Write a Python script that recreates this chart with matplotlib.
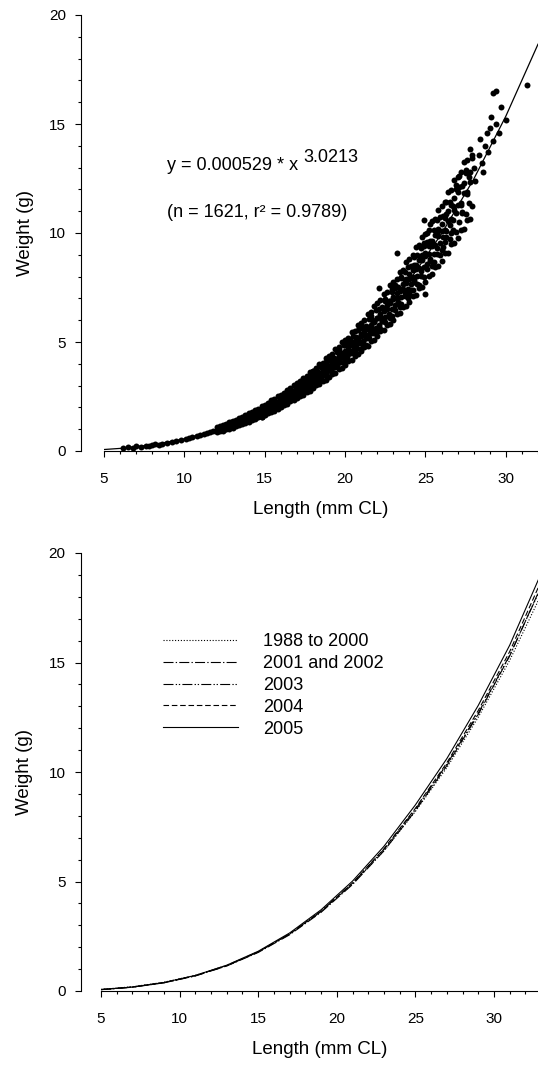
import numpy as np
import matplotlib.pyplot as plt

plt.rcParams['font.family'] = ['Liberation Sans', 'DejaVu Sans']
plt.rcParams['font.size'] = 11

length_mm = [
    6.2, 6.5, 6.8, 7.0, 7.3, 7.6, 7.8, 8.0, 8.2, 8.4, 8.6, 8.9,
    9.2, 9.5, 9.8, 10.1, 10.3, 10.5, 10.8, 11.0, 11.2, 11.4, 11.6, 11.8, 12.0, 12.2, 12.4, 12.6, 12.8,
    13.0, 13.1, 13.2, 13.3, 13.4, 13.5, 13.6, 13.7, 13.8, 13.9, 14.0, 14.1, 14.2, 14.3, 14.4,
    14.5, 14.6, 14.7, 14.8, 14.9, 15.0, 15.1, 15.2, 15.3, 15.4, 15.5, 15.6, 15.7, 15.8, 15.9,
    14.2, 14.8, 15.4, 15.6,
    16.0, 16.1, 16.2, 16.3, 16.4, 16.5, 16.6, 16.7, 16.8, 16.9, 17.0, 17.1, 17.2, 17.3, 17.4,
    17.5, 17.6, 17.7, 17.8, 17.9, 18.0, 18.1, 18.2, 18.3, 18.4, 18.5, 18.6, 18.7, 18.8, 18.9,
    16.3, 16.9, 17.2, 17.6, 18.0, 18.4, 18.8, 18.5,
    19.0, 19.1, 19.2, 19.3, 19.4, 19.5, 19.6, 19.7, 19.8, 19.9, 20.0, 20.1, 20.2, 20.3, 20.4,
    20.5, 20.6, 20.7, 20.8, 20.9, 21.0, 21.1, 21.2, 21.3, 21.4, 21.5, 21.6, 21.7, 21.8, 21.9,
    19.2, 19.6, 20.0, 20.3, 20.6, 21.0, 21.3, 21.6, 19.9, 20.8, 21.8, 21.1,
    22.0, 22.1, 22.2, 22.3, 22.4, 22.5, 22.6, 22.7, 22.8, 22.9, 23.0, 23.1, 23.2, 23.3, 23.4,
    23.5, 23.6, 23.7, 23.8, 23.9, 24.0, 24.1, 24.2, 24.3, 24.4, 24.5, 24.6, 24.7, 24.8, 24.9,
    22.2, 22.5, 22.8, 23.1, 23.4, 23.7, 24.0, 24.3, 24.6, 24.9, 22.9, 23.5, 24.2, 24.7, 22.1, 23.2,
    25.0, 25.1, 25.2, 25.3, 25.4, 25.5, 25.6, 25.7, 25.8, 25.9, 26.0, 26.1, 26.2, 26.3, 26.4,
    26.5, 26.6, 26.7, 26.8, 26.9, 27.0, 27.2, 27.4, 27.6, 27.8,
    25.1, 25.4, 25.7, 26.0, 26.3, 26.6, 26.9, 25.3, 26.2, 27.1, 27.5, 27.3, 24.9, 25.0,
    28.0, 28.1, 28.3, 28.4, 28.5, 28.7, 28.8, 28.9, 29.0, 29.1, 29.2, 29.4, 29.4, 29.2, 29.7,
    29.6, 30.0, 31.3, 27.9, 28.6,
]
weight_g = [
    0.14, 0.17, 0.16, 0.21, 0.20, 0.25, 0.23, 0.27, 0.30, 0.29, 0.33, 0.36,
    0.40, 0.46, 0.50, 0.55, 0.60, 0.64, 0.70, 0.72, 0.80, 0.82, 0.86, 0.92, 0.98, 0.96, 1.08, 1.10, 1.18,
    1.22, 1.30, 1.20, 1.35, 1.28, 1.40, 1.33, 1.45, 1.38, 1.52, 1.48, 1.60, 1.55, 1.66, 1.58,
    1.72, 1.65, 1.80, 1.70, 1.86, 1.82, 1.95, 1.88, 2.02, 1.96, 2.10, 2.00, 2.18, 2.08, 2.25,
    1.75, 1.58, 2.20, 1.85,
    2.30, 2.18, 2.45, 2.35, 2.55, 2.40, 2.65, 2.50, 2.75, 2.60, 2.85, 2.70, 2.95, 2.80, 3.05,
    2.90, 3.15, 3.00, 3.30, 3.10, 3.40, 3.20, 3.50, 3.30, 3.60, 3.42, 3.75, 3.55, 3.85, 3.65,
    2.62, 2.45, 3.18, 2.85, 3.65, 3.25, 4.10, 3.85,
    3.90, 3.70, 4.05, 3.85, 4.20, 4.00, 4.35, 4.10, 4.50, 4.25, 4.60, 4.35, 4.75, 4.50, 4.90,
    4.62, 5.05, 4.80, 5.20, 4.95, 5.35, 5.05, 5.50, 5.20, 5.65, 5.35, 5.80, 5.50, 5.95, 5.65,
    3.60, 4.70, 4.15, 5.10, 4.55, 5.80, 4.85, 6.20, 4.85, 5.55, 5.40, 4.75,
    6.10, 5.80, 6.30, 5.95, 6.50, 6.15, 6.70, 6.30, 6.90, 6.50, 7.05, 6.70, 7.25, 6.85, 7.45,
    7.05, 7.65, 7.25, 7.90, 7.45, 8.10, 7.65, 8.30, 7.85, 8.55, 8.05, 8.75, 8.25, 9.00, 8.45,
    5.60, 6.90, 6.10, 7.60, 6.60, 8.20, 7.20, 8.90, 7.60, 9.40, 7.30, 8.00, 7.40, 9.30, 7.50, 9.10,
    9.10, 8.60, 9.40, 8.80, 9.65, 9.05, 9.90, 9.30, 10.2, 9.55, 10.4, 9.80, 10.7, 10.1, 11.0,
    10.35, 11.3, 10.6, 11.6, 10.9, 11.9, 11.3, 12.3, 11.8, 12.8,
    10.0, 8.50, 10.6, 9.20, 11.4, 10.0, 12.2, 10.4, 9.60, 12.6, 12.9, 10.9, 10.6, 7.2,
    13.0, 12.4, 13.6, 14.3, 13.2, 14.0, 14.6, 13.7, 14.8, 15.3, 14.2, 15.0, 16.5, 16.4, 15.8,
    14.6, 15.2, 16.8, 13.6, 12.8,
]

# dense core of the cloud: lower, middle and upper edge of the band per length
band_length = [
    12.0, 12.2, 12.4, 12.6, 12.8, 13.0, 13.2, 13.4, 13.6, 13.8,
    14.0, 14.2, 14.4, 14.6, 14.8, 15.0, 15.2, 15.4, 15.6, 15.8,
    16.0, 16.2, 16.4, 16.6, 16.8, 17.0, 17.2, 17.4, 17.6, 17.8,
    18.0, 18.2, 18.4, 18.6, 18.8, 19.0, 19.2, 19.4, 19.6, 19.8,
    20.0, 20.2, 20.4, 20.6, 20.8, 21.0, 21.2, 21.4, 21.6, 21.8,
    22.0, 22.2, 22.4, 22.6, 22.8, 23.0, 23.2, 23.4, 23.6, 23.8,
    24.0, 24.2, 24.4, 24.6, 24.8, 25.0, 25.2, 25.4, 25.6, 25.8,
    26.0, 26.2, 26.4, 26.6, 26.8, 27.0, 27.2, 27.4, 27.6, 27.8,
]
band_low = [
    0.85, 0.90, 0.93, 0.99, 1.02, 1.07, 1.15, 1.18, 1.25, 1.29,
    1.34, 1.43, 1.46, 1.55, 1.58, 1.65, 1.75, 1.79, 1.89, 1.93,
    2.01, 2.12, 2.16, 2.28, 2.32, 2.41, 2.54, 2.59, 2.72, 2.77,
    2.87, 3.01, 3.06, 3.22, 3.27, 3.38, 3.54, 3.59, 3.77, 3.82,
    3.95, 4.13, 4.18, 4.38, 4.43, 4.57, 4.78, 4.83, 5.06, 5.10,
    5.26, 5.49, 5.54, 5.80, 5.84, 6.02, 6.27, 6.32, 6.61, 6.65,
    6.84, 7.12, 7.17, 7.49, 7.53, 7.74, 8.05, 8.10, 8.45, 8.48,
    8.72, 9.06, 9.10, 9.49, 9.52, 9.77, 10.14, 10.18, 10.61, 10.63,
]
band_mid = [
    0.97, 1.01, 1.08, 1.11, 1.18, 1.24, 1.28, 1.36, 1.40, 1.49,
    1.55, 1.60, 1.69, 1.74, 1.84, 1.91, 1.96, 2.07, 2.12, 2.24,
    2.32, 2.38, 2.51, 2.56, 2.70, 2.79, 2.85, 3.00, 3.06, 3.21,
    3.31, 3.38, 3.55, 3.61, 3.79, 3.90, 3.97, 4.16, 4.23, 4.43,
    4.56, 4.63, 4.85, 4.92, 5.14, 5.28, 5.36, 5.60, 5.67, 5.92,
    6.08, 6.16, 6.43, 6.50, 6.78, 6.95, 7.04, 7.34, 7.41, 7.72,
    7.91, 7.99, 8.33, 8.40, 8.74, 8.95, 9.03, 9.40, 9.47, 9.85,
    10.08, 10.16, 10.57, 10.64, 11.05, 11.29, 11.37, 11.82, 11.89, 12.35,
]
band_high = [
    1.08, 1.13, 1.21, 1.24, 1.33, 1.39, 1.43, 1.53, 1.57, 1.66,
    1.73, 1.79, 1.90, 1.94, 2.06, 2.13, 2.20, 2.32, 2.38, 2.51,
    2.59, 2.67, 2.81, 2.87, 3.03, 3.11, 3.19, 3.36, 3.43, 3.61,
    3.69, 3.79, 3.98, 4.05, 4.26, 4.35, 4.46, 4.67, 4.75, 4.98,
    5.08, 5.20, 5.44, 5.52, 5.78, 5.89, 6.02, 6.28, 6.37, 6.66,
    6.78, 6.92, 7.21, 7.30, 7.62, 7.75, 7.91, 8.23, 8.32, 8.68,
    8.82, 8.98, 9.34, 9.44, 9.83, 9.97, 10.15, 10.55, 10.65, 11.07,
    11.23, 11.42, 11.86, 11.96, 12.42, 12.58, 12.79, 13.26, 13.37, 13.87,
]
# second set of band points, between the rows above
band_length2 = [
    12.1, 12.3, 12.5, 12.7, 12.9, 13.1, 13.3, 13.5, 13.7, 13.9,
    14.1, 14.3, 14.5, 14.7, 14.9, 15.1, 15.3, 15.5, 15.7, 15.9,
    16.1, 16.3, 16.5, 16.7, 16.9, 17.1, 17.3, 17.5, 17.7, 17.9,
    18.1, 18.3, 18.5, 18.7, 18.9, 19.1, 19.3, 19.5, 19.7, 19.9,
    20.1, 20.3, 20.5, 20.7, 20.9, 21.1, 21.3, 21.5, 21.7, 21.9,
    22.1, 22.3, 22.5, 22.7, 22.9, 23.1, 23.3, 23.5, 23.7, 23.9,
    24.1, 24.3, 24.5, 24.7, 24.9, 25.1, 25.3, 25.5, 25.7, 25.9,
    26.1, 26.3, 26.5, 26.7, 26.9, 27.1, 27.3, 27.5, 27.7, 27.9,
]
band_lower2 = [
    0.92, 0.99, 1.01, 1.08, 1.09, 1.17, 1.25, 1.27, 1.36, 1.37,
    1.46, 1.56, 1.58, 1.68, 1.69, 1.80, 1.91, 1.93, 2.05, 2.05,
    2.18, 2.32, 2.33, 2.46, 2.47, 2.62, 2.77, 2.78, 2.94, 2.94,
    3.11, 3.28, 3.29, 3.47, 3.46, 3.65, 3.85, 3.85, 4.06, 4.05,
    4.26, 4.49, 4.48, 4.71, 4.69, 4.93, 5.19, 5.17, 5.43, 5.40,
    5.68, 5.96, 5.93, 6.22, 6.18, 6.49, 6.81, 6.76, 7.09, 7.04,
    7.37, 7.73, 7.67, 8.03, 7.96, 8.34, 8.73, 8.66, 9.05, 8.97,
    9.38, 9.81, 9.72, 10.16, 10.06, 10.51, 10.98, 10.87, 11.36, 11.23,
]
band_upper2 = [
    1.06, 1.10, 1.18, 1.19, 1.31, 1.35, 1.39, 1.49, 1.50, 1.64,
    1.68, 1.73, 1.85, 1.86, 2.02, 2.07, 2.11, 2.26, 2.26, 2.46,
    2.51, 2.56, 2.73, 2.73, 2.96, 3.01, 3.06, 3.26, 3.25, 3.52,
    3.57, 3.63, 3.86, 3.84, 4.15, 4.20, 4.26, 4.52, 4.49, 4.85,
    4.90, 4.96, 5.26, 5.21, 5.62, 5.68, 5.74, 6.07, 6.01, 6.47,
    6.53, 6.59, 6.96, 6.89, 7.41, 7.46, 7.52, 7.94, 7.84, 8.43,
    8.48, 8.54, 9.01, 8.89, 9.54, 9.59, 9.65, 10.16, 10.02, 10.74,
    10.80, 10.85, 11.42, 11.24, 12.04, 12.09, 12.14, 12.77, 12.56, 13.45,
]

# fitted curve in the top panel
fit_length = [5, 6, 8, 10, 12, 14, 16, 18, 20, 22, 24, 26, 28, 30, 32]
fit_weight = [0.068, 0.119, 0.283, 0.556, 0.964, 1.536, 2.299, 3.281, 4.511,
              6.016, 7.825, 9.966, 12.47, 15.36, 18.66]

# bottom panel: fitted curves per period
curve_length = [5, 7, 9, 11, 13, 15, 17, 19, 21, 23, 25, 27, 29, 31, 33]
w_1988_2000 = [0.075, 0.195, 0.400, 0.715, 1.170, 1.790, 2.600, 3.620, 4.880, 6.400, 8.200, 10.20, 12.50, 15.10, 18.10]
w_2001_2002 = [0.063, 0.176, 0.376, 0.689, 1.142, 1.759, 2.568, 3.593, 4.861, 6.399, 8.232, 10.29, 12.63, 15.30, 18.48]
w_2003 = [0.060, 0.172, 0.372, 0.690, 1.150, 1.780, 2.600, 3.640, 4.920, 6.470, 8.300, 10.35, 12.69, 15.33, 18.43]
w_2004 = [0.066, 0.180, 0.382, 0.700, 1.158, 1.785, 2.605, 3.645, 4.930, 6.490, 8.340, 10.42, 12.81, 15.50, 18.72]
w_2005 = [0.065, 0.181, 0.388, 0.711, 1.179, 1.815, 2.650, 3.708, 5.018, 6.606, 8.498, 10.61, 13.04, 15.79, 19.07]

series = [
    ('1988 to 2000', w_1988_2000, (0, (1, 1.6))),
    ('2001 and 2002', w_2001_2002, (0, (9, 2, 1.2, 2))),
    ('2003', w_2003, (0, (9, 2, 1.2, 1.6, 1.2, 2))),
    ('2004', w_2004, (0, (5, 2.5))),
    ('2005', w_2005, '-'),
]


def style_axes(ax, offset, xmax):
    ax.spines['top'].set_visible(False)
    ax.spines['right'].set_visible(False)
    ax.spines['left'].set_position(('outward', offset))
    ax.set_xlim(5, xmax)
    ax.set_ylim(0, 20)
    ax.set_xticks([5, 10, 15, 20, 25, 30])
    ax.set_xticks(np.arange(5, int(xmax) + 1, 1), minor=True)
    ax.set_yticks([0, 5, 10, 15, 20])
    ax.set_yticks(np.arange(0, 21, 1), minor=True)
    ax.tick_params(which='major', direction='out', length=4, width=0.8)
    ax.tick_params(which='minor', direction='out', length=2.5, width=0.8)
    ax.tick_params(axis='x', which='major', pad=11)
    ax.tick_params(axis='y', which='major', pad=7)
    ax.set_xlabel('Length (mm CL)', labelpad=11, fontsize=13.5)
    ax.set_ylabel('Weight (g)', labelpad=11, fontsize=13.5)


fig = plt.figure(figsize=(5.38, 10.7), dpi=100)

ax1 = fig.add_axes([104 / 538, 1 - 451 / 1070, 434 / 538, 436 / 1070])
style_axes(ax1, 16.5, 32)
ax1.plot(length_mm, weight_g, 'o', color='black', ms=4.3, mew=0)
for w in (band_low, band_mid, band_high):
    ax1.plot(band_length, w, 'o', color='black', ms=4.3, mew=0)
for w in (band_lower2, band_upper2):
    ax1.plot(band_length2, w, 'o', color='black', ms=4.3, mew=0)
ax1.plot(fit_length, fit_weight, color='black', lw=0.9)
t1 = ax1.text(8.91, 12.89, 'y = 0.000529 * x', va='baseline', ha='left', fontsize=13)
ax1.annotate('3.0213', xy=(1, 0), xycoords=t1, xytext=(4, 8.5),
             textcoords='offset points', va='baseline', ha='left', fontsize=13)
ax1.text(8.91, 10.73, '(n = 1621, r\u00b2 = 0.9789)', va='baseline', ha='left', fontsize=13)

ax2 = fig.add_axes([101 / 538, 1 - 991 / 1070, 437 / 538, 438 / 1070])
style_axes(ax2, 14.4, 32.8)
for name, vals, ls in series:
    ax2.plot(curve_length, vals, color='black', lw=0.8, linestyle=ls, label=name)
ax2.legend(loc='upper left', bbox_to_anchor=(0.142, 0.817), frameon=False,
           handlelength=4.15, handletextpad=1.4, labelspacing=0.27,
           borderpad=0, borderaxespad=0, fontsize=13)

fig.savefig('out.png', dpi=100)
